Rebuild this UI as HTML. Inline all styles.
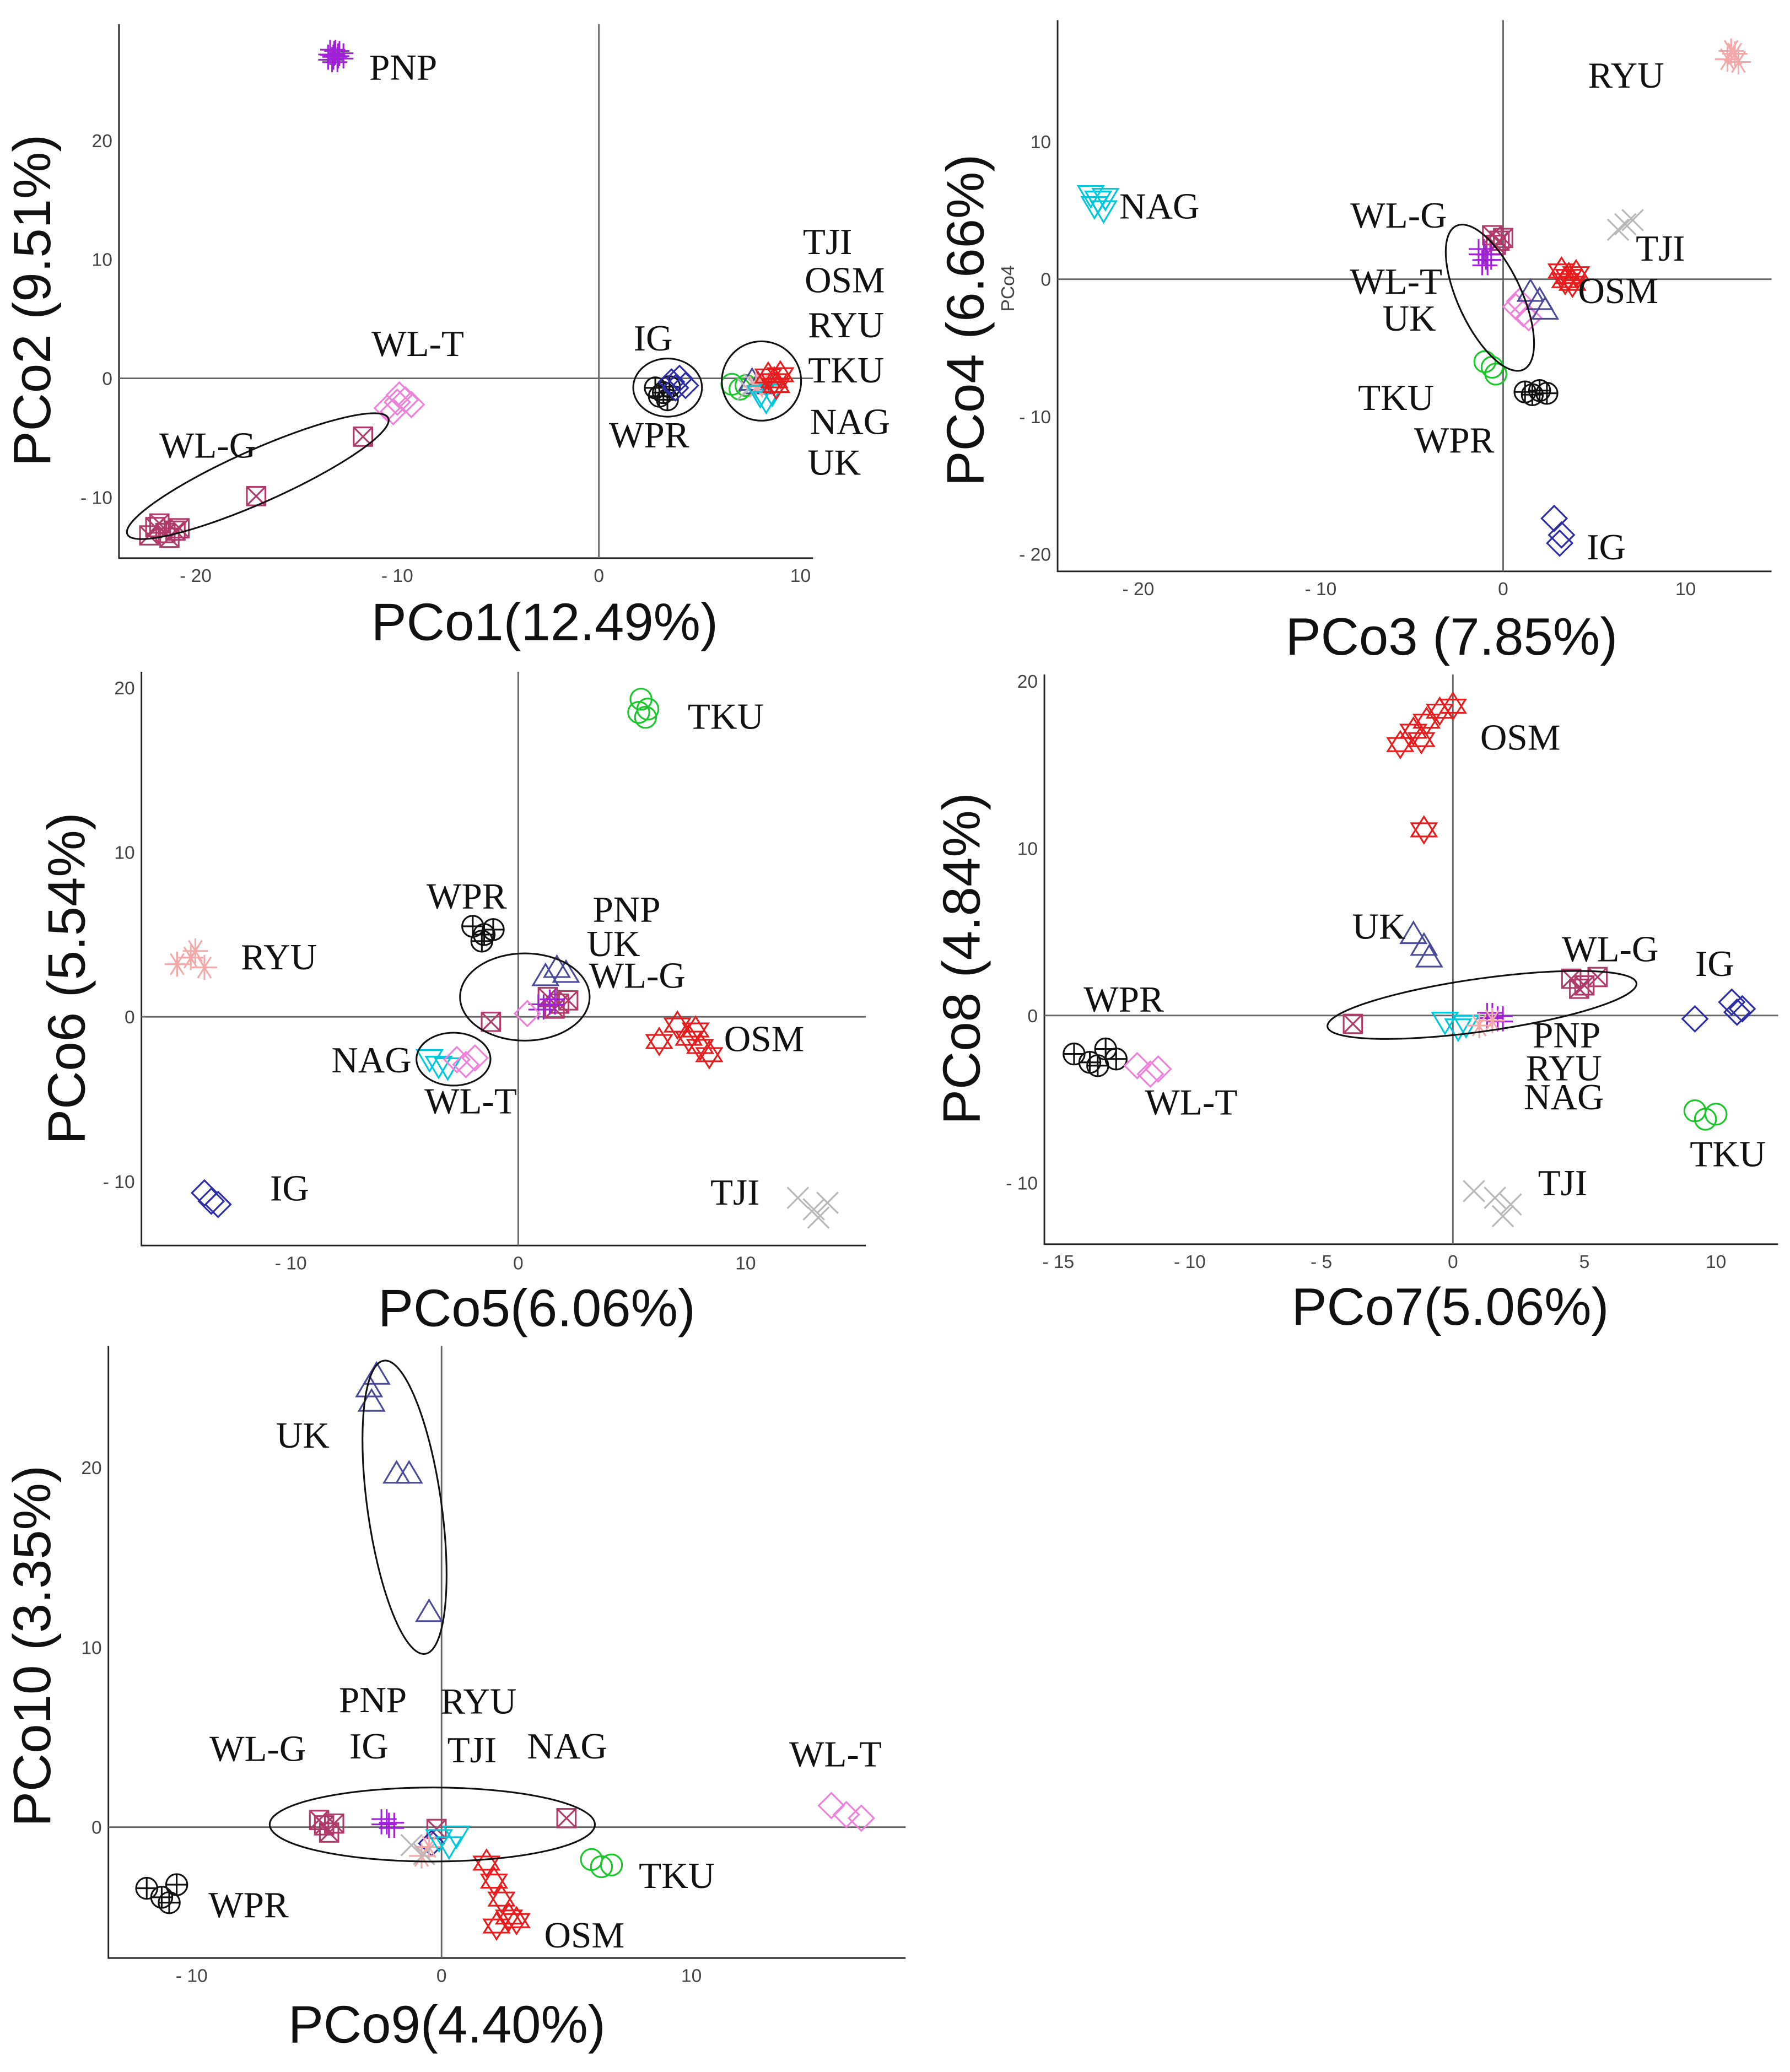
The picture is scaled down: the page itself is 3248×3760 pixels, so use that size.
<!DOCTYPE html>
<html><head><meta charset="utf-8"><title>PCoA panels</title>
<style>
html,body{margin:0;padding:0;background:#fff;}
svg{display:block;}
.tick{font-family:"Liberation Sans",sans-serif;font-size:14px;fill:#444;}
.atitle{font-family:"Liberation Sans",sans-serif;font-size:40px;fill:#111;}
.lab{font-family:"Liberation Serif",serif;font-size:28px;fill:#111;}
</style></head>
<body>
<svg id="chart" width="3248" height="3760" viewBox="0 0 1354 1567" xmlns="http://www.w3.org/2000/svg">
<rect x="0" y="0" width="1354" height="1567" fill="#fff"/>
</svg>
<script>
// ---------- data ----------
const groupColors = {PNP:"#a020d8",WLG:"#b03a6a",WLT:"#ee80dc",IG:"#2c2ca8",WPR:"#111111",TKU:"#18c828",NAG:"#00c8dc",UK:"#4a4a9a",OSM:"#e81c1c",RYU:"#f4a8a8",TJI:"#b8b8b8"};
const groupShapes = {PNP:"plus",WLG:"squarex",WLT:"diamond",IG:"diamond",WPR:"circleplus",TKU:"circle",NAG:"tridown",UK:"triup",OSM:"star",RYU:"asterisk",TJI:"xcross"};

// Panel 1: PCo1 vs PCo2
const p1Groups = ["WLG","WLT","PNP","WPR","IG","TKU","UK","TJI","RYU","NAG","OSM"];
const p1X = [[-22,-21.5,-21,-22.3,-21.8,-20.8,-21.3,-17,-11.7],[-10.5,-10,-9.6,-10.2,-9.9,-9.3],[-13.3,-13.0,-13.1,-12.8,-13.2],[2.8,3.2,3.5,3.0,3.4],[3.6,4.0,4.3,3.8],[6.6,7.0,7.3],[7.6,7.9],[7.4,7.7],[7.8,8.1],[8.0,8.3,8.6],[8.4,8.7,9.0,8.8]];
const p1Y = [[-12.5,-13,-12.8,-13.2,-12.2,-12.6,-13.4,-9.9,-4.9],[-2.5,-2,-1.8,-2.8,-1.4,-2.2],[27,27.3,26.8,27.1,27.4],[-0.8,-1.2,-0.7,-1.5,-1.8],[-0.3,0,-0.6,-0.8],[-0.5,-0.9,-0.6],[-0.3,-0.6],[-0.9,-0.5],[-0.7,-0.4],[-1.3,-1.8,-1.2],[0.2,-0.2,0.3,-0.6]];
const p1XTicks = [-20,-10,0,10];
const p1YTicks = [20,10,0,-10];

// Panel 2: PCo3 vs PCo4
const p2Groups = ["RYU","NAG","WLG","PNP","WLT","UK","OSM","TJI","TKU","WPR","IG"];
const p2X = [[12.3,12.7,12.5,12.9],[-22.6,-22.2,-21.8,-22.4,-21.9],[-0.6,-0.2,-0.4,0],[-1.2,-0.8,-1.0],[0.7,1.1,1.4,0.9],[1.5,2.0,2.3],[3.2,3.6,4.0,3.8,3.4],[6.3,6.7,7.1],[-1.0,-0.6,-0.4],[1.2,1.6,2.0,2.4],[2.8,3.2,3.1]];
const p2Y = [[16.0,16.4,16.6,15.8],[6.2,5.8,6.0,5.4,5.1],[3.2,2.8,2.5,3.0],[2.0,1.6,1.2],[-2.0,-2.5,-2.8,-1.6],[-1.0,-1.6,-2.3],[0.6,0.2,0.4,-0.3,-0.1],[3.6,4.0,4.3],[-6.0,-6.4,-6.9],[-8.2,-8.4,-8.1,-8.3],[-17.4,-18.6,-19.2]];
const p2XTicks = [-20,-10,0,10];
const p2YTicks = [10,0,-10,-20];

// Panel 3: PCo5 vs PCo6
const p3Groups = ["TKU","RYU","WPR","UK","WLG","PNP","OSM","NAG","WLT","IG","TJI"];
const p3X = [[5.4,5.7,5.6,5.3],[-15,-14.4,-13.8,-14.2],[-2,-1.5,-1.1,-1.6],[1.2,1.7,2.1],[1.3,1.8,2.2,1.6,-1.2],[1.0,1.5],[7.0,7.5,8.0,8.4,7.8,6.2],[-3.9,-3.5,-3.1],[-2.7,-2.3,-1.9,0.4],[-13.8,-13.5,-13.2],[12.3,13.0,13.6,13.2]];
const p3Y = [[19.3,18.7,18.2,18.5],[3.2,3.6,3.0,4.0],[5.5,5.0,5.3,4.6],[2.4,2.9,2.6],[1.2,0.8,1.0,0.5,-0.3],[0.6,0.9],[-0.5,-1.3,-1.8,-2.3,-0.8,-1.5],[-2.5,-2.9,-3.0],[-2.6,-2.9,-2.5,0.2],[-10.7,-11.2,-11.4],[-11.0,-11.7,-11.3,-12.2]];
const p3XTicks = [-10,0,10];
const p3YTicks = [20,10,0,-10];

// Panel 4: PCo7 vs PCo8
const p4Groups = ["OSM","UK","WLG","IG","WPR","WLT","PNP","NAG","RYU","TKU","TJI"];
const p4X = [[-2,-1.5,-1,-0.5,0,-1.2,-1.1],[-1.5,-1.1,-0.9],[4.5,5.0,5.5,4.8,-3.8],[10.6,11.0,10.8,9.2],[-14.4,-13.8,-13.2,-12.8,-13.5],[-12,-11.5,-11.2],[1.4,1.8],[-0.3,0.2,0.5],[1.0,1.5],[9.2,9.6,10.0],[0.8,1.6,2.2,1.9]];
const p4Y = [[16.2,17,17.6,18.2,18.5,16.5,11.1],[4.8,4.1,3.4],[2.2,1.8,2.3,1.6,-0.5],[0.8,0.4,0.2,-0.2],[-2.3,-2.8,-2.0,-2.6,-3.0],[-3.0,-3.5,-3.2],[0,-0.2],[-0.3,-0.7,-0.5],[-0.6,-0.3],[-5.7,-6.2,-5.9],[-10.5,-10.9,-11.3,-12.0]];
const p4XTicks = [-15,-10,-5,0,5,10];
const p4YTicks = [20,10,0,-10];

// Panel 5: PCo9 vs PCo10
const p5Groups = ["UK","WLG","PNP","IG","RYU","TJI","NAG","WPR","TKU","OSM","WLT"];
const p5X = [[-2.9,-2.6,-2.8,-1.8,-1.3,-0.5],[-4.9,-4.5,-4.7,-4.3,5.0,-0.2],[-2.3,-2.0],[-0.4],[-0.8,-0.5],[-1.2,-0.7],[-0.1,0.3,0.6],[-11.8,-11.2,-10.6,-10.9],[6.0,6.4,6.8],[1.8,2.1,2.4,2.7,2.2,3.0],[15.6,16.2,16.8]];
const p5Y = [[24.4,25.1,23.6,19.6,19.6,11.9],[0.4,-0.3,0.1,0.2,0.5,-0.1],[0.3,0.1],[-0.9],[-1.6,-1.1],[-1.0,-1.5],[-0.6,-1.0,-0.4],[-3.4,-3.9,-3.2,-4.2],[-1.8,-2.2,-2.1],[-2,-3,-4,-5,-5.5,-5.2],[1.2,0.7,0.5]];
const p5XTicks = [-10,0,10];
const p5YTicks = [20,10,0];

// ---------- layout (pixel geometry) ----------
const panels = [
 {id:"pco1-pco2",groups:p1Groups,xs:p1X,ys:p1Y,xt:p1XTicks,yt:p1YTicks,ox:453,oy:286,sx:15.25,sy:9.0,L:90,T:18,R:615,B:422,
  xtitle:"PCo1(12.49%)",xtx:412,xty:484,ytitle:"PCo2 (9.51%)",ytx:38,yty:227,
  ell:[[195,360,108,20,-24],[505,293,26,22,0],[576,288,30,30,0]],
  labels:[["PNP",305,60],["WL-T",316,269],["WL-G",157,346],["IG",494,265],["WPR",491,338],["TJI",626,192],["OSM",639,221],["RYU",640,255],["TKU",640,289],["NAG",643,328],["UK",631,359]]},
 {id:"pco3-pco4",groups:p2Groups,xs:p2X,ys:p2Y,xt:p2XTicks,yt:p2YTicks,ox:1137,oy:211,sx:13.8,sy:10.4,L:800,T:15,R:1340,B:432,
  xtitle:"PCo3 (7.85%)",xtx:1098,xty:495,ytitle:"PCo4 (6.66%)",ytx:744,yty:242,
  ell:[[1127,225,24,60,-25]],
  labels:[["RYU",1230,66],["NAG",877,165],["WL-G",1058,172],["TJI",1256,197],["WL-T",1056,222],["OSM",1224,229],["UK",1066,250],["TKU",1056,310],["WPR",1100,342],["IG",1215,423]]},
 {id:"pco5-pco6",groups:p3Groups,xs:p3X,ys:p3Y,xt:p3XTicks,yt:p3YTicks,ox:392,oy:769,sx:17.2,sy:12.45,L:107,T:508,R:655,B:942,
  xtitle:"PCo5(6.06%)",xtx:406,xty:1003,ytitle:"PCo6 (5.54%)",ytx:64,yty:740,
  ell:[[397,754,49,33,0],[343,801,28,20,0]],
  labels:[["TKU",549,551],["RYU",211,733],["WPR",353,687],["PNP",474,697],["UK",464,723],["WL-G",482,747],["OSM",578,795],["NAG",281,811],["WL-T",356,842],["IG",219,908],["TJI",556,911]]},
 {id:"pco7-pco8",groups:p4Groups,xs:p4X,ys:p4Y,xt:p4XTicks,yt:p4YTicks,ox:1099,oy:768,sx:19.9,sy:12.65,L:790,T:510,R:1345,B:941,
  xtitle:"PCo7(5.06%)",xtx:1097,xty:1002,ytitle:"PCo8 (4.84%)",ytx:741,yty:725,
  ell:[[1121,760,118,20,-8]],
  labels:[["OSM",1150,567],["UK",1043,710],["WL-G",1218,727],["IG",1297,738],["WPR",850,765],["PNP",1185,792],["RYU",1183,817],["NAG",1183,839],["WL-T",901,843],["TKU",1307,882],["TJI",1182,904]]},
 {id:"pco9-pco10",groups:p5Groups,xs:p5X,ys:p5Y,xt:p5XTicks,yt:p5YTicks,ox:334,oy:1382,sx:18.9,sy:13.6,L:82,T:1018,R:685,B:1481,
  xtitle:"PCo9(4.40%)",xtx:338,xty:1545,ytitle:"PCo10 (3.35%)",ytx:38,yty:1245,
  ell:[[306,1140,28,112,-8],[327,1380,123,28,0]],
  labels:[["UK",229,1095],["PNP",282,1295],["RYU",362,1296],["WL-G",195,1332],["IG",279,1330],["TJI",357,1333],["NAG",429,1330],["WL-T",632,1336],["TKU",512,1428],["WPR",188,1450],["OSM",442,1473]]}
];

const NS="http://www.w3.org/2000/svg";
const svg=document.getElementById("chart");
function mk(tag,attrs,parent){const e=document.createElementNS(NS,tag);for(const k in attrs)e.setAttribute(k,attrs[k]);parent.appendChild(e);return e;}

function marker(g,shape,cx,cy,col){
  const s=9.5; const st={fill:"none",stroke:col,"stroke-width":1.3};
  let d="";
  switch(shape){
   case "plus": d=`M${cx-s} ${cy-2}H${cx+s}M${cx-s} ${cy+2}H${cx+s}M${cx-2} ${cy-s}V${cy+s}M${cx+2} ${cy-s}V${cy+s}`;break;
   case "squarex": d=`M${cx-7} ${cy-7}h14v14h-14zM${cx-7} ${cy-7}l14 14M${cx+7} ${cy-7}l-14 14`;break;
   case "diamond": d=`M${cx} ${cy-s}L${cx+s} ${cy}L${cx} ${cy+s}L${cx-s} ${cy}Z`;break;
   case "circleplus": d=`M${cx-8} ${cy}a8 8 0 1 0 16 0a8 8 0 1 0 -16 0M${cx-8} ${cy}h16M${cx} ${cy-8}v16`;break;
   case "circle": d=`M${cx-8} ${cy}a8 8 0 1 0 16 0a8 8 0 1 0 -16 0`;break;
   case "tridown": d=`M${cx-s} ${cy-6}H${cx+s}L${cx} ${cy+10}Z`;break;
   case "triup": d=`M${cx-s} ${cy+6}H${cx+s}L${cx} ${cy-10}Z`;break;
   case "star": d=`M${cx-s} ${cy+5}H${cx+s}L${cx} ${cy-10}ZM${cx-s} ${cy-5}H${cx+s}L${cx} ${cy+10}Z`;break;
   case "asterisk": d=`M${cx-s} ${cy}H${cx+s}M${cx-5} ${cy-8}L${cx+5} ${cy+8}M${cx+5} ${cy-8}L${cx-5} ${cy+8}M${cx} ${cy-s}V${cy+s}`;break;
   case "xcross": d=`M${cx-8} ${cy-8}L${cx+8} ${cy+8}M${cx+8} ${cy-8}L${cx-8} ${cy+8}`;break;
  }
  st.d=d; return mk("path",st,g);
}

panels.forEach(P=>{
  const g=mk("g",{},svg);
  
  
  const X=v=>P.ox+v*P.sx, Y=v=>P.oy-v*P.sy;
  const fl=mk("path",{d:`M${P.L} ${P.T}V${P.B}H${P.R}`,fill:"none",stroke:"#222","stroke-width":1.2},g);
  
  
  const zl=mk("path",{d:`M${X(0)} ${P.T}V${P.B}M${P.L} ${Y(0)}H${P.R}`,fill:"none",stroke:"#666","stroke-width":1.2},g);
  
  
  P.xt.forEach(v=>{const t=mk("text",{x:X(v),y:P.B+18,"text-anchor":"middle",class:"tick"},g);t.textContent=v<0?"- "+Math.abs(v):String(v);
    
    });
  P.yt.forEach(v=>{const t=mk("text",{x:P.L-5,y:Y(v)+5,"text-anchor":"end",class:"tick"},g);t.textContent=v<0?"- "+Math.abs(v):String(v);
    
    });
  P.groups.forEach((gr,i)=>{
    const gg=mk("g",{},g);
    
    
    P.xs[i].forEach((xv,j)=>{
      const m=marker(gg,groupShapes[gr],X(xv),Y(P.ys[i][j]),groupColors[gr]);
      
      
    });
  });
  P.ell.forEach(e=>{const el=mk("ellipse",{cx:e[0],cy:e[1],rx:e[2],ry:e[3],transform:`rotate(${e[4]} ${e[0]} ${e[1]})`,fill:"none",stroke:"#111","stroke-width":1.3},g);
    
    });
  P.labels.forEach(l=>{const t=mk("text",{x:l[1],y:l[2],"text-anchor":"middle",class:"lab"},g);t.textContent=l[0];
    
    });
  const xt=mk("text",{x:P.xtx,y:P.xty,"text-anchor":"middle",class:"atitle"},g);xt.textContent=P.xtitle;
  
  
  const yt=mk("text",{x:P.ytx,y:P.yty,"text-anchor":"middle",class:"atitle",transform:`rotate(-90 ${P.ytx} ${P.yty})`},g);yt.textContent=P.ytitle;
  
  
});
const sm=mk("text",{x:767,y:218,"text-anchor":"middle",class:"tick",transform:"rotate(-90 767 218)","font-size":"11"},svg);
sm.textContent="PCo4";


</script>
</body></html>
